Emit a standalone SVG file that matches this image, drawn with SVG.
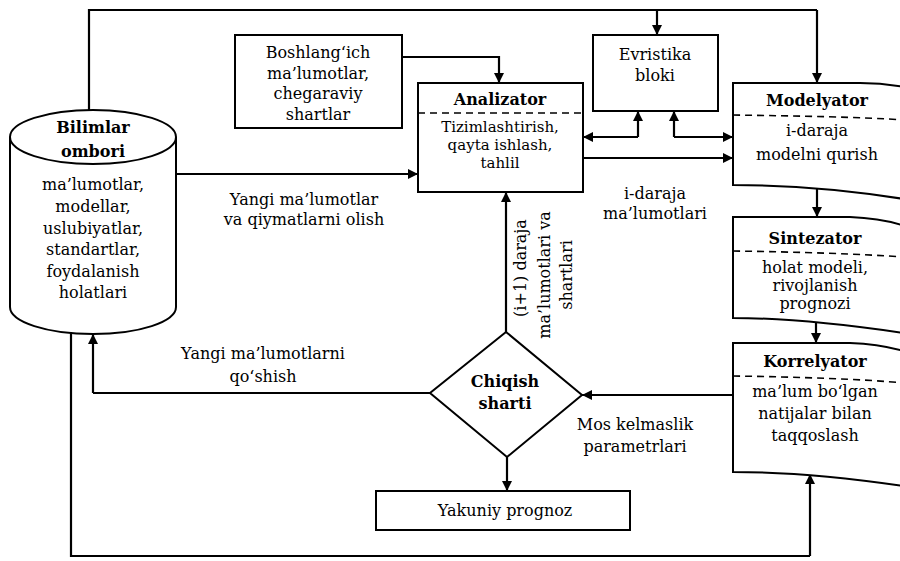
<svg xmlns="http://www.w3.org/2000/svg" width="900" height="561" viewBox="0 0 900 561">
<defs>
<marker id="ah" viewBox="0 0 10 10" refX="10" refY="5" markerWidth="10" markerHeight="10" markerUnits="userSpaceOnUse" orient="auto">
<path d="M0,0 L10,5 L0,10 Z" fill="#000"/>
</marker>
<style>
.box{fill:#fff;stroke:#000;stroke-width:2}
.dash{fill:none;stroke:#000;stroke-width:1.6;stroke-dasharray:7,5}
.ln{fill:none;stroke:#000;stroke-width:2.2}
.ar{fill:none;stroke:#000;stroke-width:2.2;marker-end:url(#ah)}
text{font-family:"DejaVu Serif","Liberation Serif",serif;font-size:16px;fill:#000;text-anchor:middle}
.b{font-weight:bold}
.sm{font-size:15px}
</style>
</defs>
<rect width="900" height="561" fill="#fff"/>

<g id="connectors">
<path class="ln" d="M89,110 V10 H817"/>
<path class="ar" d="M817,10 V83"/>
<path class="ar" d="M657,10 V35"/>
<path class="ar" d="M402,57 H499 V83"/>
<path class="ar" d="M176,174 H418"/>
<path class="ar" d="M638,137 V111"/>
<path class="ar" d="M638,137 H583"/>
<path class="ar" d="M674,137 V111"/>
<path class="ar" d="M674,137 H733"/>
<path class="ar" d="M583,158 H733"/>
<path class="ar" d="M817,186 V217"/>
<path class="ar" d="M816,319 V343"/>
<path class="ar" d="M506,332 V192"/>
<path class="ar" d="M733,395 H582"/>
<path class="ar" d="M507,457 V491"/>
<path class="ln" d="M430,393 H93"/>
<path class="ar" d="M93,393 V334"/>
<path class="ln" d="M71,333 V556 H810"/>
<path class="ar" d="M810,556 V474"/>
</g>

<g id="bilimlar">
<path class="box" d="M10,137 V307 A83,27 0 0 0 176,307 V137"/>
<ellipse class="box" cx="93" cy="137" rx="83" ry="27"/>
<text class="b" x="93" y="133">Bilimlar</text>
<text class="b" x="93" y="157">ombori</text>
<text x="93" y="190">ma’lumotlar,</text>
<text x="93" y="212">modellar,</text>
<text x="93" y="234">uslubiyatlar,</text>
<text x="93" y="255">standartlar,</text>
<text x="93" y="277">foydalanish</text>
<text x="93" y="298">holatlari</text>
</g>

<g id="boshlangich">
<rect class="box" x="235" y="35" width="167" height="93"/>
<text x="318" y="58">Boshlang‘ich</text>
<text x="318" y="79">ma’lumotlar,</text>
<text x="318" y="99">chegaraviy</text>
<text x="318" y="120">shartlar</text>
</g>

<g id="analizator">
<rect class="box" x="418" y="83" width="165" height="109"/>
<line class="dash" x1="418" y1="113" x2="583" y2="113"/>
<text class="b" x="500" y="105">Analizator</text>
<text class="sm" x="500" y="132">Tizimlashtirish,</text>
<text class="sm" x="500" y="150">qayta ishlash,</text>
<text class="sm" x="500" y="168">tahlil</text>
</g>

<g id="evristika">
<rect class="box" x="593" y="35" width="125" height="76"/>
<text x="655" y="60">Evristika</text>
<text x="655" y="81">bloki</text>
</g>

<g id="modelyator">
<path class="box" d="M910,200 C850,190 790,185 733,185 V83 H860 C880,83 895,85 910,88"/>
<path class="dash" d="M733,115 C800,116 860,117 905,120"/>
<text class="b" x="817" y="106">Modelyator</text>
<text x="817" y="136">i-daraja</text>
<text x="817" y="160">modelni qurish</text>
</g>

<g id="sintezator">
<path class="box" d="M910,334 C850,325 790,318 733,318 V217 H850 C875,218 895,222 910,228"/>
<path class="dash" d="M733,251 C800,252 860,254 905,257"/>
<text class="b" x="815" y="244">Sintezator</text>
<text x="815" y="273">holat modeli,</text>
<text x="815" y="291">rivojlanish</text>
<text x="815" y="309">prognozi</text>
</g>

<g id="korrelyator">
<path class="box" d="M910,487 C850,478 790,472 733,472 V343 H850 C875,344 895,348 910,353"/>
<path class="dash" d="M733,376 C800,377 860,379 905,383"/>
<text class="b" x="815" y="367">Korrelyator</text>
<text x="815" y="397">ma’lum bo‘lgan</text>
<text x="815" y="419">natijalar bilan</text>
<text x="815" y="441">taqqoslash</text>
</g>

<g id="chiqish">
<path class="box" d="M506,332 L582,395 L507,457 L430,393 Z"/>
<text class="b" x="505" y="387">Chiqish</text>
<text class="b" x="505" y="409">sharti</text>
</g>

<g id="yakuniy">
<rect class="box" x="376" y="491" width="254" height="39"/>
<text x="505" y="516">Yakuniy prognoz</text>
</g>

<g id="labels">
<text x="304" y="205">Yangi ma’lumotlar</text>
<text x="304" y="225">va qiymatlarni olish</text>
<text x="655" y="199">i-daraja</text>
<text x="655" y="219">ma’lumotlari</text>
<text x="263" y="359">Yangi ma’lumotlarni</text>
<text x="263" y="382">qo‘shish</text>
<text x="635" y="430">Mos kelmaslik</text>
<text x="635" y="452">parametrlari</text>
<text transform="translate(526,268) rotate(-90)">(i+1) daraja</text>
<text transform="translate(550,275) rotate(-90)">ma’lumotlari va</text>
<text transform="translate(572,275) rotate(-90)">shartlari</text>
</g>
</svg>
